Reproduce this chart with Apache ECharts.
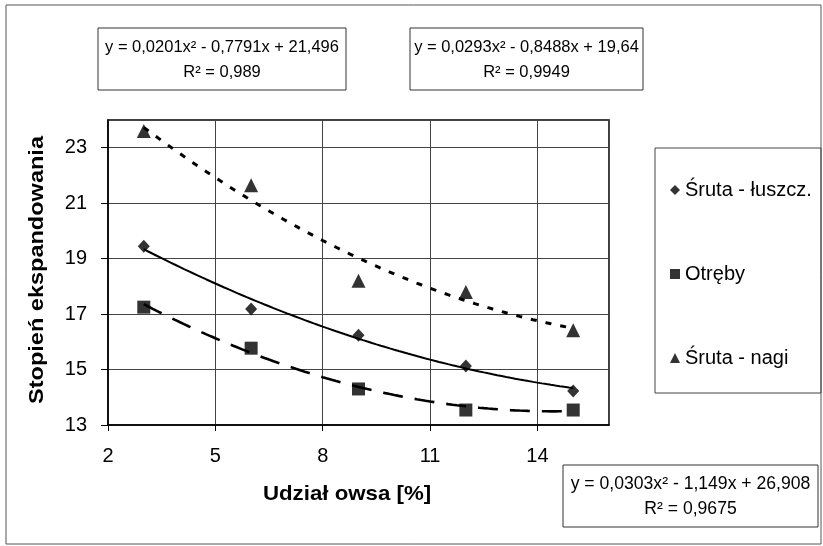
<!DOCTYPE html>
<html><head><meta charset="utf-8">
<script src="https://cdn.jsdelivr.net/npm/echarts@6/dist/echarts.min.js"></script>
<style>html,body{margin:0;padding:0;background:#fff}#c{width:823px;height:546px}</style>
</head><body><div id="c"></div>
<script>
const xValues = [3, 6, 9, 12, 15];
const seriesNames = ['Śruta - łuszcz.', 'Otręby', 'Śruta - nagi'];
const luszcz = [19.45, 17.18, 16.24, 15.13, 14.23];
const otreby = [17.25, 15.77, 14.3, 13.54, 13.54];
const nagi = [23.6, 21.65, 18.2, 17.8, 16.42];
// trend-line coefficients as printed on the chart [a, b, c] for y = a x^2 + b x + c
const trendLuszcz = [0.0201, -0.7791, 21.496];
const trendOtreby = [0.0293, -0.8488, 19.64];
const trendNagi = [0.0303, -1.149, 26.908];
const eqLuszcz = ['y = 0,0201x² - 0,7791x + 21,496', 'R² = 0,989'];
const eqOtreby = ['y = 0,0293x² - 0,8488x + 19,64', 'R² = 0,9949'];
const eqNagi = ['y = 0,0303x² - 1,149x + 26,908', 'R² = 0,9675'];
const xTicks = [2, 5, 8, 11, 14];
const yTicks = [13, 15, 17, 19, 21, 23];
const xTitle = 'Udział owsa [%]';
const yTitle = 'Stopień ekspandowania';

const FONT = '"Liberation Sans", Arial, sans-serif';
function pts(vals) { return xValues.map((x, i) => [x, vals[i]]); }
function trend(c) {
  const out = [];
  const x0 = xValues[0], x1 = xValues[xValues.length - 1];
  for (let k = 0; k <= 96; k++) {
    const x = x0 + (x1 - x0) * k / 96;
    out.push([x, c[0] * x * x + c[1] * x + c[2]]);
  }
  return out;
}
function eqBox(x, y, w, h, lines, fs) {
  return [
    { type: 'rect', shape: { x: x, y: y, width: w, height: h }, style: { fill: '#fff', stroke: '#333', lineWidth: 1 } },
    { type: 'text', x: x + w / 2, y: y + h * 0.31, style: { text: lines[0], font: fs + 'px ' + FONT, fill: '#000', align: 'center', verticalAlign: 'middle' } },
    { type: 'text', x: x + w / 2, y: y + h * 0.71, style: { text: lines[1], font: fs + 'px ' + FONT, fill: '#000', align: 'center', verticalAlign: 'middle' } }
  ];
}

const chart = echarts.init(document.getElementById('c'), null, { renderer: 'canvas' });
const black = '#000';
chart.setOption({
  animation: false,
  backgroundColor: '#fff',
  grid: { left: 108, top: 120, width: 501, height: 305, show: true, borderColor: '#000', borderWidth: 1.5, backgroundColor: 'transparent' },
  xAxis: {
    type: 'value', min: 2, max: 16, interval: 3,
    axisLine: { show: true, lineStyle: { color: black, width: 1.5 } },
    axisTick: { show: true, length: 6, lineStyle: { color: black } },
    axisLabel: { margin: 21, fontSize: 20, color: black, fontFamily: FONT, showMaxLabel: false,
      formatter: v => (xTicks.indexOf(v) >= 0 ? String(v) : '') },
    splitLine: { show: true, lineStyle: { color: '#444', width: 1 } }
  },
  yAxis: {
    type: 'value', min: 13, max: 24, interval: 2,
    axisLine: { show: true, lineStyle: { color: black, width: 1.5 } },
    axisTick: { show: true, length: 7, lineStyle: { color: black } },
    axisLabel: { margin: 21, fontSize: 20, color: black, fontFamily: FONT, showMaxLabel: false,
      formatter: v => (yTicks.indexOf(v) >= 0 ? String(v) : '') },
    splitLine: { show: true, lineStyle: { color: '#444', width: 1 } }
  },
  legend: {
    data: seriesNames, orient: 'vertical', left: 665, top: 175, itemGap: 64,
    itemWidth: 10, itemHeight: 10,
    textStyle: { fontSize: 20, color: black, fontFamily: FONT }
  },
  series: [
    { name: 'trend1', type: 'line', data: trend(trendLuszcz), showSymbol: false, symbol: 'none', lineStyle: { color: black, width: 2 }, z: 2, silent: true },
    { name: 'trend2', type: 'line', data: trend(trendOtreby), showSymbol: false, symbol: 'none', lineStyle: { color: black, width: 2.6, type: [20, 12] }, z: 2, silent: true },
    { name: 'trend3', type: 'line', data: trend(trendNagi), showSymbol: false, symbol: 'none', lineStyle: { color: black, width: 3, type: [6, 9] }, z: 2, silent: true },
    { name: seriesNames[0], type: 'scatter', data: pts(luszcz), symbol: 'diamond', symbolSize: [12, 13], itemStyle: { color: black }, z: 5 },
    { name: seriesNames[1], type: 'scatter', data: pts(otreby), symbol: 'rect', symbolSize: 13, itemStyle: { color: black }, z: 5 },
    { name: seriesNames[2], type: 'scatter', data: pts(nagi), symbol: 'triangle', symbolSize: 14, itemStyle: { color: black }, z: 5 }
  ],
  graphic: [
    { type: 'rect', z: -10, shape: { x: 6, y: 5, width: 815, height: 539 }, style: { fill: 'none', stroke: '#555', lineWidth: 1 } },
    { type: 'rect', shape: { x: 655, y: 148, width: 166, height: 245 }, style: { fill: 'none', stroke: '#444', lineWidth: 1 } },
    ...eqBox(98, 28, 248, 62, eqLuszcz, 16.5),
    ...eqBox(410, 28, 233, 62, eqOtreby, 16.5),
    ...eqBox(563, 465, 255, 62, eqNagi, 17.6),
    { type: 'text', x: 347, y: 494, scaleX: 1.06, style: { text: xTitle, font: 'bold 21px ' + FONT, fill: black, align: 'center', verticalAlign: 'middle' } },
    { type: 'text', x: 37, y: 270, rotation: Math.PI / 2, scaleX: 1.12, style: { text: yTitle, font: 'bold 21px ' + FONT, fill: black, align: 'center', verticalAlign: 'middle' } }
  ]
});
</script></body></html>
